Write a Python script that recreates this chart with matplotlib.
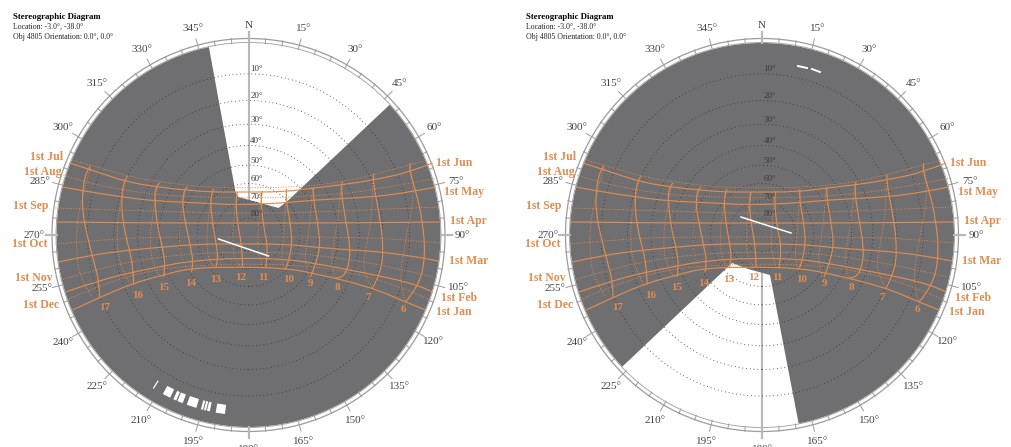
import numpy as np
import matplotlib
matplotlib.use('Agg')
import matplotlib.pyplot as plt
from matplotlib.patches import Circle, PathPatch
from matplotlib.path import Path

plt.rcParams['font.family'] = ['Liberation Serif', 'DejaVu Serif']

# sun path readings, (east, north) on the diagram, disc radius is 192
month_jun = [(-179,72),(-148,62),(-121,53),(-91,48),(-63,45),(-38,43),(-11,43),(35,43),(65,47),(92,50),(125,55),(162,63),(184,72)]
month_aug = [(-186,48),(-165,44),(-126,38),(-93,34),(-48,32),(-11,30),(35,32),(65,35),(125,38),(162,43),(187,48)]
month_sep = [(-192,13),(-98,12),(0,12),(102,12),(192,13)]
month_oct = [(-190,-27),(-158,-20),(-118,-15),(-85,-12),(-48,-9),(-11,-9),(35,-9),(65,-12),(102,-15),(135,-17),(175,-23),(190,-26)]
month_nov = [(-183,-57),(-148,-45),(-115,-37),(-85,-31),(-58,-26),(-11,-23),(35,-24),(65,-28),(132,-41),(170,-50),(184,-57)]
month_dec = [(-176,-75),(-148,-62),(-115,-48),(-85,-40),(-58,-33),(-11,-32),(35,-33),(65,-38),(122,-52),(157,-67),(177,-75)]
solid_months = [month_jun, month_aug, month_sep, month_oct, month_nov, month_dec]

dot_1 = [(-176,75),(-148,67),(-118,58),(-88,53),(-48,48),(0,47),(48,48),(88,52),(125,60),(179,75)]
dot_2 = [(-185,60),(-165,53),(-125,45),(-91,40),(-48,38),(0,37),(48,38),(91,41),(125,45),(189,57)]
dot_3 = [(-193,27),(-98,24),(0,21),(98,24),(189,28)]
dot_4 = [(-193,-9),(-148,-5),(-98,-2),(0,-2),(98,-2),(148,-4),(192,-8)]
dot_5 = [(-188,-45),(-148,-33),(-98,-23),(-48,-18),(0,-17),(48,-18),(98,-24),(148,-33),(185,-42)]
dot_6 = [(-182,-65),(-148,-50),(-98,-35),(-48,-30),(0,-29),(48,-30),(98,-36),(148,-50),(182,-65)]
dotted_months = [dot_1, dot_2, dot_3, dot_4, dot_5, dot_6]

hour_17 = [(-158,69),(-162,65),(-166,45),(-166,22),(-161,-2),(-155,-25),(-149,-48),(-149,-62)]
hour_16 = [(-121,59),(-125,53),(-127,38),(-126,15),(-121,-8),(-115,-32),(-115,-50)]
hour_15 = [(-89,52),(-93,48),(-94,35),(-91,8),(-86,-12),(-83,-32),(-85,-42)]
hour_14 = [(-61,48),(-65,45),(-66,28),(-63,12),(-58,-12),(-55,-28),(-57,-37)]
hour_13 = [(-35,46),(-38,40),(-37,18),(-33,-5),(-30,-25),(-33,-33)]
hour_12 = [(-11,43),(-13,35),(-11,12),(-6,-15),(-6,-32)]
hour_11 = [(14,44),(12,38),(15,8),(20,-15),(17,-33)]
hour_10 = [(38,46),(37,37),(42,12),(44,-15),(37,-35)]
hour_9 = [(65,48),(64,40),(70,8),(72,-18),(62,-42)]
hour_8 = [(94,53),(92,48),(97,15),(102,-13),(100,-32),(94,-43),(87,-43)]
hour_7 = [(125,61),(124,55),(132,15),(135,-15),(132,-38),(124,-53)]
hour_6 = [(162,72),(160,67),(167,45),(174,15),(177,-22),(170,-52),(157,-67)]
solid_hours = [hour_17, hour_16, hour_15, hour_14, hour_13, hour_12, hour_11, hour_10, hour_9, hour_8, hour_7, hour_6]

hourd_17 = [(-158,67),(-163,50),(-168,30),(-172,10),(-172,-20),(-168,-45),(-156,-62)]
hourd_16 = [(-123,55),(-130,25),(-132,-5),(-128,-33),(-118,-50)]
hourd_15 = [(-91,49),(-96,20),(-99,-5),(-96,-30),(-88,-42)]
hourd_14 = [(-63,46),(-68,20),(-70,-5),(-66,-27),(-59,-37)]
hourd_13 = [(-36,43),(-41,15),(-42,-10),(-39,-27),(-34,-33)]
hourd_12 = [(-12,41),(-15,15),(-16,-10),(-13,-27),(-8,-32)]
hourd_11 = [(13,42),(10,15),(9,-10),(11,-25),(15,-33)]
hourd_10 = [(38,43),(36,15),(34,-10),(33,-25),(36,-35)]
hourd_9 = [(64,46),(62,15),(58,-10),(56,-27),(60,-42)]
hourd_8 = [(93,51),(90,20),(85,-10),(82,-30),(87,-43)]
hourd_7 = [(124,52),(124,22),(117,-15),(114,-38),(124,-53)]
hourd_6 = [(162,68),(167,45),(157,-5),(150,-48),(157,-67)]
dotted_hours = [hourd_17, hourd_16, hourd_15, hourd_14, hourd_13, hourd_12, hourd_11, hourd_10, hourd_9, hourd_8, hourd_7, hourd_6]

hour_labels = ['17','16','15','14','13','12','11','10','9','8','7','6']
hour_label_pos = [(-144,-72),(-111,-60),(-85,-52),(-58,-48),(-33,-44),(-8,-43),(15,-43),(40,-45),(62,-48),(89,-53),(120,-62),(155,-75)]

month_labels = ['1st Jul','1st Aug','1st Sep','1st Oct','1st Nov','1st Dec','1st Jun','1st May','1st Apr','1st Mar','1st Feb','1st Jan']
month_label_pos = [(-202,78),(-206,63),(-218,29),(-219,-9),(-215,-43),(-207,-70),(206,72),(216,43),(220,14),(220,-26),(211,-63),(205,-77)]

altitudes = [10,20,30,40,50,60,70,80]
az_labels = list(range(15, 360, 15))
# these four sit off the circle so they clear the month names
az_label_nudge = {75: (1, -2), 105: (3, 3), 255: (0, 2), 285: (-2, -2)}

# open sky wedges: rim azimuths then the inner corners
left_rim = (47.3, 348.1)
left_corners = [(-13,43),(-10,38),(30,27),(39,34)]
right_rim = (226.7, 169.0)
right_corners = [(8,-40),(-14,-34),(-30,-28)]

# white sun hits
left_hit_line = [(-30,-4),(20,-21)]
right_hit_line = [(-21,18),(29,2)]
right_top_hits = [[(36,169),(45,167)],[(50,166),(58,163)]]
low_hit_az_start = [211.6,205.7,203.6,201.4,196.8,194.6,193.6,192.4,187.5]
low_hit_az_end = [212.0,208.3,204.6,203.2,200.0,195.3,194.3,193.3,190.5]
low_hit_alt = (3.5, 6.5)

title = 'Stereographic Diagram'
location = 'Location: -3.0°, -38.0°'
orientation = 'Obj 4805 Orientation: 0.0°, 0.0°'

R = 192
GREY = '#6f6e70'
ORANGE = '#e08c50'
RIM = '#9c9c9c'
W, H = 1011, 447


def project(az, alt):
    r = R * np.tan(np.radians((90 - np.asarray(alt, dtype=float)) / 2))
    return r * np.sin(np.radians(az)), r * np.cos(np.radians(az))


def polar_xy(az, r):
    return r * np.sin(np.radians(az)), r * np.cos(np.radians(az))


def draw_paths(ax, lines, style, lw):
    # readings are used as spline control points so the curves stay smooth
    for line in lines:
        pts = np.array(line, dtype=float)
        verts = [pts[0]]
        codes = [Path.MOVETO]
        for i in range(1, len(pts) - 1):
            end = pts[i + 1] if i == len(pts) - 2 else (pts[i] + pts[i + 1]) / 2
            verts += [pts[i], end]
            codes += [Path.CURVE3, Path.CURVE3]
        if len(pts) == 2:
            verts.append(pts[1])
            codes.append(Path.LINETO)
        ax.add_patch(PathPatch(Path(verts, codes), fill=False, ec=ORANGE, ls=style, lw=lw, zorder=5))


def draw_diagram(ax, rim, corners):
    # cross lines sit under the grey sky mask
    ax.plot([0, 0], [-R - 11, R + 11], color='#b8b8b8', lw=1.5, zorder=1)
    ax.plot([-R - 11, R + 11], [0, 0], color='#b8b8b8', lw=1.5, zorder=1)

    az_start, az_end = rim
    if az_end < az_start:
        sweep = np.linspace(az_start, az_end + 360, 200)
    else:
        sweep = np.linspace(az_start, az_end, 200)
    ex, ny = polar_xy(sweep, R)
    cx = [c[0] for c in corners]
    cy = [c[1] for c in corners]
    ax.fill(np.r_[ex, cx], np.r_[ny, cy], color=GREY, lw=0, zorder=2)

    for alt in altitudes:
        r = R * np.tan(np.radians((90 - alt) / 2))
        ax.add_patch(Circle((0, 0), r, fill=False, ec='#333333', lw=0.6, ls=(0, (1, 3.5)), zorder=3))
        ax.text(8, r + 4.5, f'{alt}°', fontsize=6.5, color='#3c3c3c', ha='center', va='center', zorder=7)

    ax.add_patch(Circle((0, 0), R + 0.5, fill=False, ec=RIM, lw=0.6, zorder=4))
    ax.add_patch(Circle((0, 0), R + 4.5, fill=False, ec=RIM, lw=0.9, zorder=4))
    for az in range(0, 360, 5):
        outer = R + 11 if az % 15 == 0 else R + 5
        x, y = polar_xy(az, np.array([R, outer]))
        ax.plot(x, y, color='#b8b8b8' if az % 90 == 0 else RIM, lw=1.5 if az % 90 == 0 else 0.7, zorder=4)

    lx, ly = polar_xy(0, 210)
    ax.text(lx, ly, 'N', fontsize=8, color='#444444', ha='center', va='center')
    for az in az_labels:
        lx, ly = polar_xy(az, 214)
        nudge = az_label_nudge.get(az, (0, 0))
        ax.text(lx + nudge[0], ly + nudge[1], f'{az}°', fontsize=8, color='#444444', ha='center', va='center')

    draw_paths(ax, dotted_months, ':', 0.7)
    draw_paths(ax, dotted_hours, ':', 0.7)
    draw_paths(ax, solid_months, '-', 0.85)
    draw_paths(ax, solid_hours, '-', 0.85)

    for label, pos in zip(hour_labels, hour_label_pos):
        ax.text(pos[0], pos[1], label, fontsize=8, fontweight='bold', color=ORANGE, ha='center', va='center', zorder=7)
    for label, pos in zip(month_labels, month_label_pos):
        ax.text(pos[0], pos[1], label, fontsize=8.5, fontweight='bold', color=ORANGE, ha='center', va='center', zorder=7)

    ax.text(-235.5, 218, title, fontsize=6.3, fontweight='bold', color='black', ha='left', va='center')
    ax.text(-235.5, 208, location, fontsize=5.6, color='#222222', ha='left', va='center')
    ax.text(-235.5, 198, orientation, fontsize=5.6, color='#222222', ha='left', va='center')


fig = plt.figure(figsize=(W / 100, H / 100), dpi=100)
ax1 = fig.add_axes([0, 0, 513.5 / W, 1])
ax2 = fig.add_axes([513.5 / W, 0, 497.5 / W, 1])
ax1.set_xlim(-248.5, 265)
ax2.set_xlim(-248.5, 249)
for ax in (ax1, ax2):
    ax.set_ylim(-212, 235)
    ax.axis('off')
    ax.patch.set_visible(False)

draw_diagram(ax1, left_rim, left_corners)
draw_diagram(ax2, right_rim, right_corners)

# sun hits on the left diagram
pts = np.array(left_hit_line)
ax1.plot(pts[:, 0], pts[:, 1], color='white', lw=1.1, zorder=6)
for a0, a1 in zip(low_hit_az_start, low_hit_az_end):
    x0, y0 = project(a0, low_hit_alt[0])
    x1, y1 = project(a1, low_hit_alt[0])
    x2, y2 = project(a1, low_hit_alt[1])
    x3, y3 = project(a0, low_hit_alt[1])
    ax1.fill([x0, x1, x2, x3], [y0, y1, y2, y3], color='white', lw=0, zorder=6)

# and on the right one
pts = np.array(right_hit_line)
ax2.plot(pts[:, 0], pts[:, 1], color='white', lw=1.1, zorder=6)
for seg in right_top_hits:
    pts = np.array(seg)
    ax2.plot(pts[:, 0], pts[:, 1], color='white', lw=1.4, zorder=6)

fig.savefig('out.png', dpi=100)
